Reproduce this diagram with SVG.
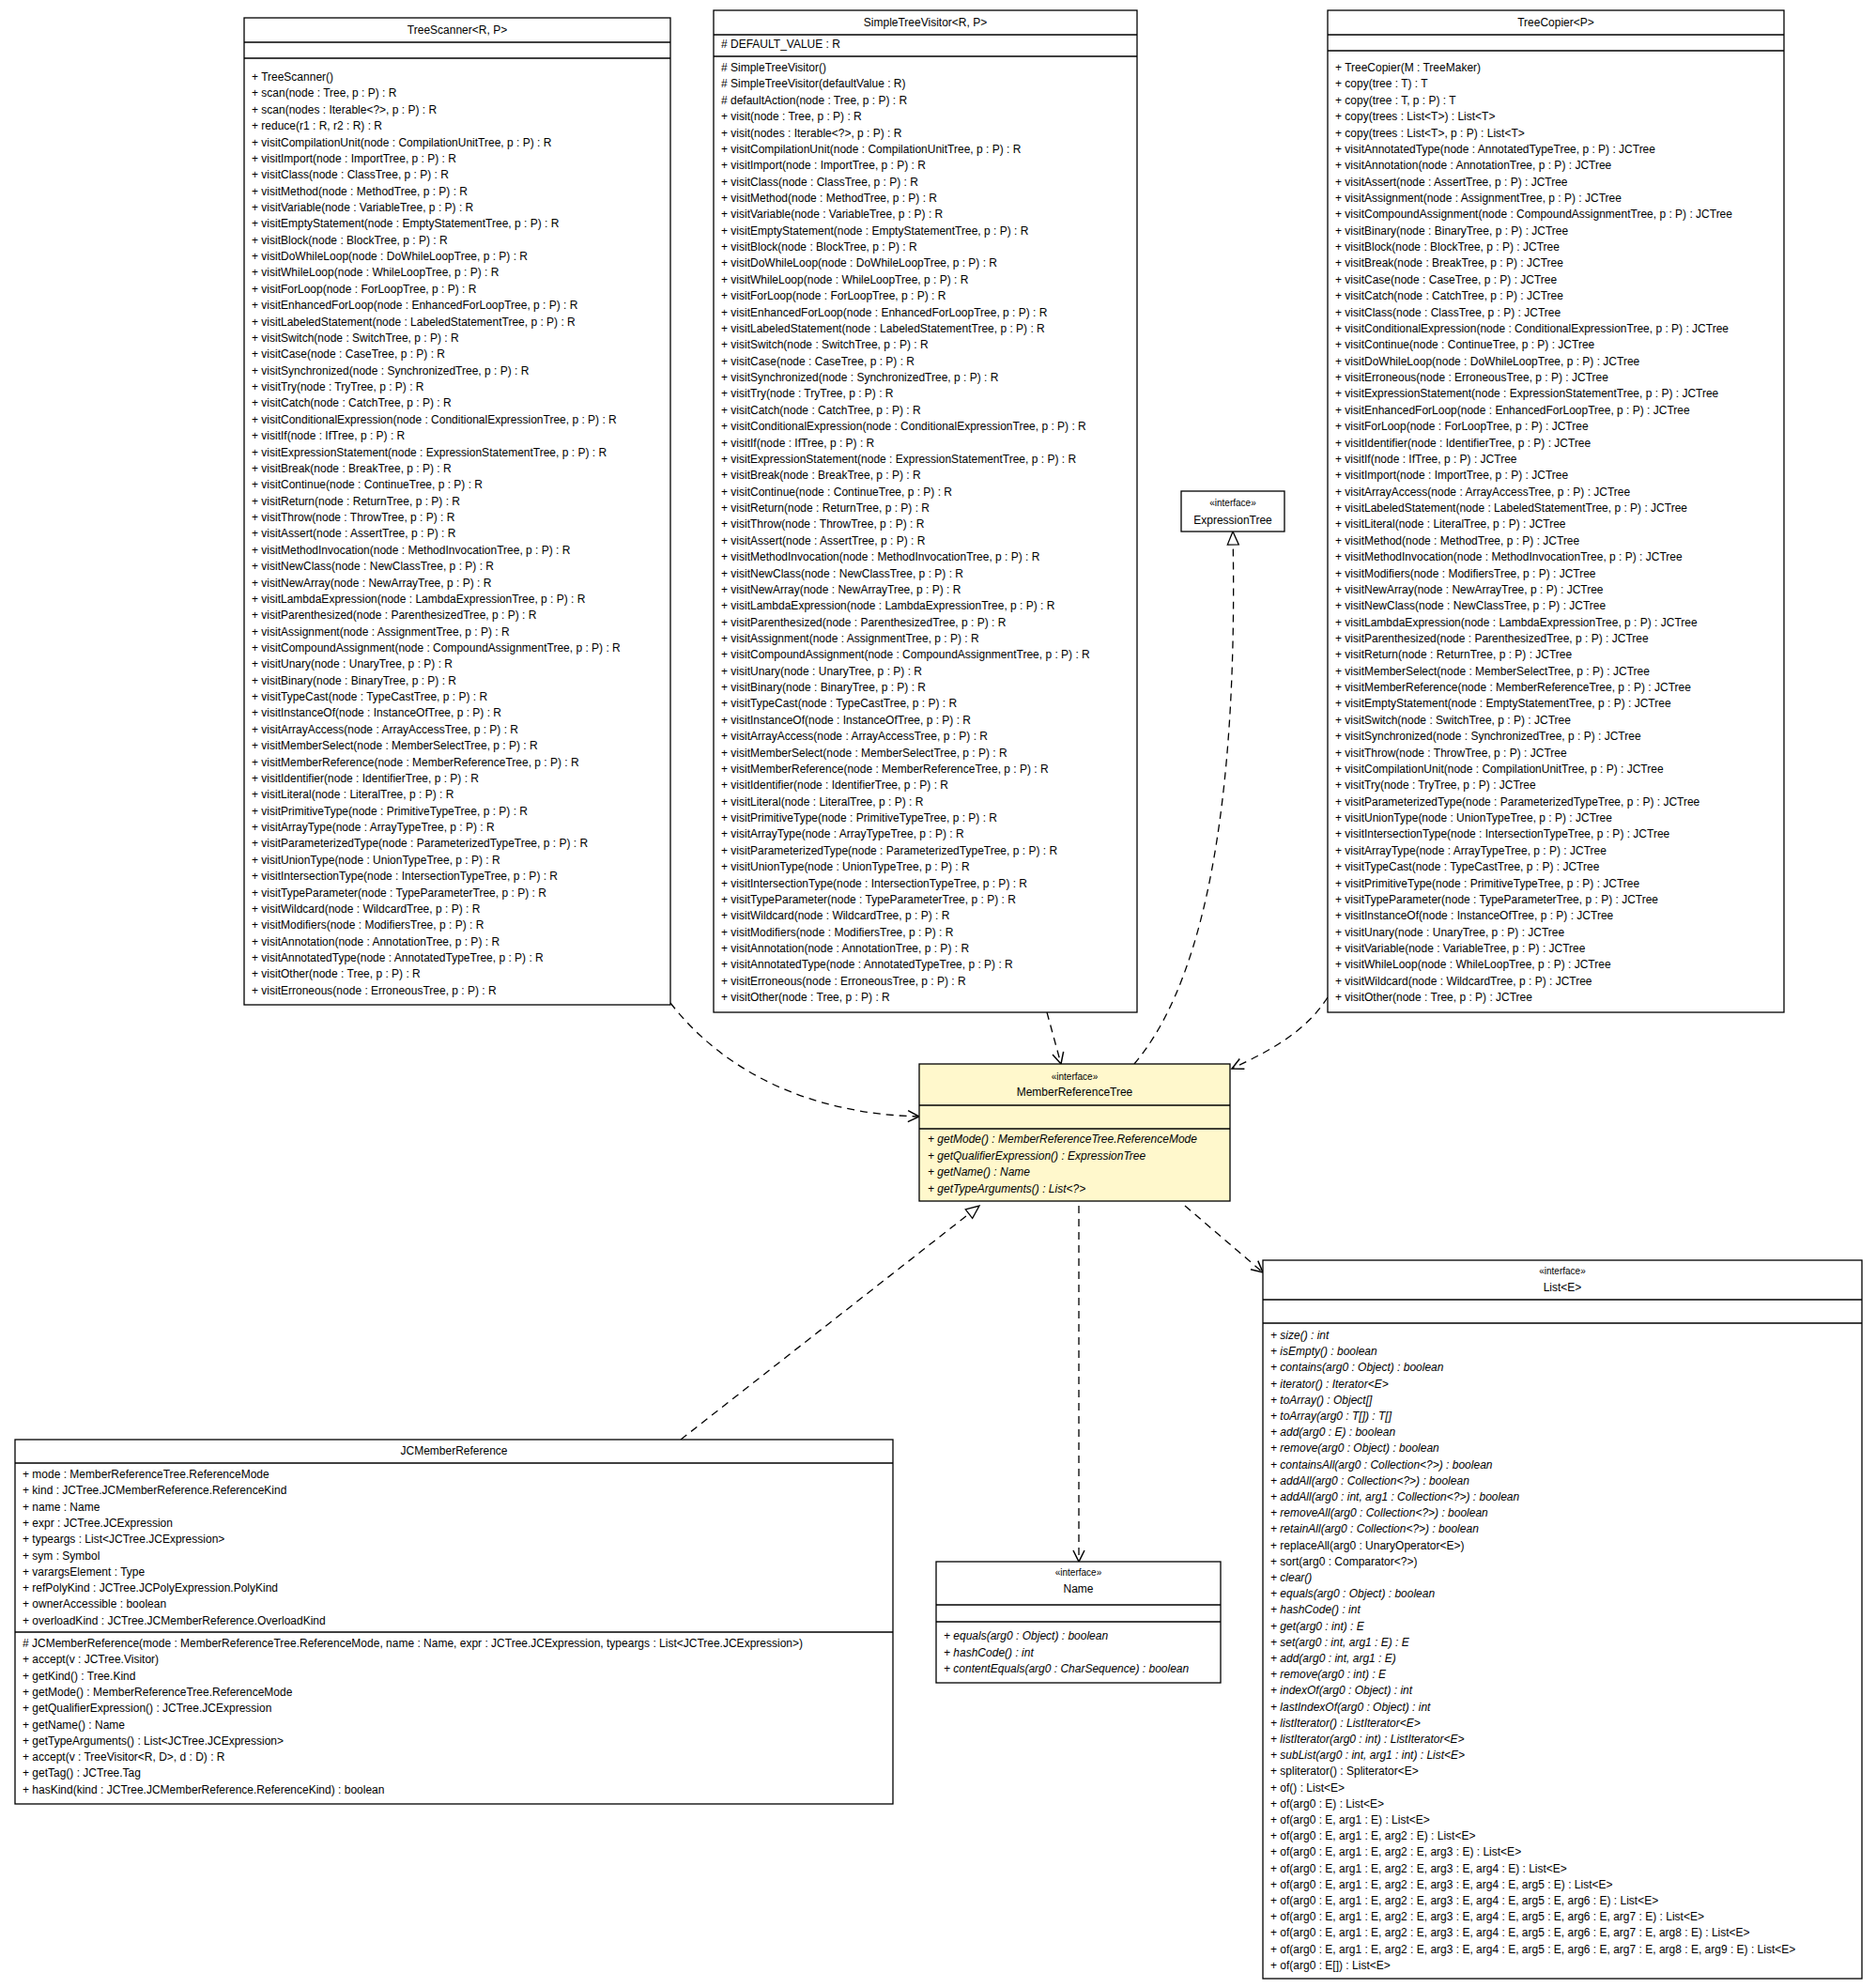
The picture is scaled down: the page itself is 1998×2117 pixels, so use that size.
<svg xmlns="http://www.w3.org/2000/svg" width="1998" height="2117" viewBox="0 0 1998 2117">
<style>
text{font-family:"Liberation Sans",Arial,sans-serif;font-size:12px;fill:#000}
.c{text-anchor:middle}
.i{font-style:italic}
.box{fill:#fff;stroke:#000;stroke-width:1.3}
.hl{fill:#fff8cc}
.sep{stroke:#000;stroke-width:1.3}
.e{fill:none;stroke:#000;stroke-width:1.3;stroke-dasharray:8,6}
</style>
<defs>
<marker id="vee" markerWidth="16" markerHeight="16" refX="14" refY="8" orient="auto" markerUnits="userSpaceOnUse"><path d="M2,2 L14,8 L2,14" fill="none" stroke="#000" stroke-width="1.5"/></marker>
<marker id="tri" markerWidth="18" markerHeight="18" refX="16" refY="9" orient="auto" markerUnits="userSpaceOnUse"><path d="M2,3 L16,9 L2,15 Z" fill="#fff" stroke="#000" stroke-width="1.3"/></marker>
</defs>
<g id="connectors">
<path class="e" d="M714,1068 C770,1140 860,1186 979,1189" marker-end="url(#vee)"/>
<path class="e" d="M1115,1078 L1130,1133" marker-end="url(#vee)"/>
<path class="e" d="M1208,1133 C1270,1060 1320,900 1313,566" marker-end="url(#tri)"/>
<path class="e" d="M1414,1062 C1390,1100 1350,1120 1312,1138" marker-end="url(#vee)"/>
<path class="e" d="M1262,1284 L1345,1355" marker-end="url(#vee)"/>
<path class="e" d="M1149,1284 L1149,1663" marker-end="url(#vee)"/>
<path class="e" d="M725,1533 L1043,1284" marker-end="url(#tri)"/>
</g>
<g id="TreeScanner">
<rect class="box" x="260" y="19" width="454" height="1051"/>
<line class="sep" x1="260" y1="45" x2="714" y2="45"/><line class="sep" x1="260" y1="62" x2="714" y2="62"/>
<text class="c" x="487" y="36">TreeScanner&lt;R, P&gt;</text>
<text x="268" y="86">+ TreeScanner()</text>
<text x="268" y="103.4">+ scan(node : Tree, p : P) : R</text>
<text x="268" y="120.7">+ scan(nodes : Iterable&lt;?&gt;, p : P) : R</text>
<text x="268" y="138.1">+ reduce(r1 : R, r2 : R) : R</text>
<text x="268" y="155.5">+ visitCompilationUnit(node : CompilationUnitTree, p : P) : R</text>
<text x="268" y="172.9">+ visitImport(node : ImportTree, p : P) : R</text>
<text x="268" y="190.2">+ visitClass(node : ClassTree, p : P) : R</text>
<text x="268" y="207.6">+ visitMethod(node : MethodTree, p : P) : R</text>
<text x="268" y="225">+ visitVariable(node : VariableTree, p : P) : R</text>
<text x="268" y="242.3">+ visitEmptyStatement(node : EmptyStatementTree, p : P) : R</text>
<text x="268" y="259.7">+ visitBlock(node : BlockTree, p : P) : R</text>
<text x="268" y="277.1">+ visitDoWhileLoop(node : DoWhileLoopTree, p : P) : R</text>
<text x="268" y="294.4">+ visitWhileLoop(node : WhileLoopTree, p : P) : R</text>
<text x="268" y="311.8">+ visitForLoop(node : ForLoopTree, p : P) : R</text>
<text x="268" y="329.2">+ visitEnhancedForLoop(node : EnhancedForLoopTree, p : P) : R</text>
<text x="268" y="346.6">+ visitLabeledStatement(node : LabeledStatementTree, p : P) : R</text>
<text x="268" y="363.9">+ visitSwitch(node : SwitchTree, p : P) : R</text>
<text x="268" y="381.3">+ visitCase(node : CaseTree, p : P) : R</text>
<text x="268" y="398.7">+ visitSynchronized(node : SynchronizedTree, p : P) : R</text>
<text x="268" y="416">+ visitTry(node : TryTree, p : P) : R</text>
<text x="268" y="433.4">+ visitCatch(node : CatchTree, p : P) : R</text>
<text x="268" y="450.8">+ visitConditionalExpression(node : ConditionalExpressionTree, p : P) : R</text>
<text x="268" y="468.1">+ visitIf(node : IfTree, p : P) : R</text>
<text x="268" y="485.5">+ visitExpressionStatement(node : ExpressionStatementTree, p : P) : R</text>
<text x="268" y="502.9">+ visitBreak(node : BreakTree, p : P) : R</text>
<text x="268" y="520.3">+ visitContinue(node : ContinueTree, p : P) : R</text>
<text x="268" y="537.6">+ visitReturn(node : ReturnTree, p : P) : R</text>
<text x="268" y="555">+ visitThrow(node : ThrowTree, p : P) : R</text>
<text x="268" y="572.4">+ visitAssert(node : AssertTree, p : P) : R</text>
<text x="268" y="589.7">+ visitMethodInvocation(node : MethodInvocationTree, p : P) : R</text>
<text x="268" y="607.1">+ visitNewClass(node : NewClassTree, p : P) : R</text>
<text x="268" y="624.5">+ visitNewArray(node : NewArrayTree, p : P) : R</text>
<text x="268" y="641.8">+ visitLambdaExpression(node : LambdaExpressionTree, p : P) : R</text>
<text x="268" y="659.2">+ visitParenthesized(node : ParenthesizedTree, p : P) : R</text>
<text x="268" y="676.6">+ visitAssignment(node : AssignmentTree, p : P) : R</text>
<text x="268" y="694">+ visitCompoundAssignment(node : CompoundAssignmentTree, p : P) : R</text>
<text x="268" y="711.3">+ visitUnary(node : UnaryTree, p : P) : R</text>
<text x="268" y="728.7">+ visitBinary(node : BinaryTree, p : P) : R</text>
<text x="268" y="746.1">+ visitTypeCast(node : TypeCastTree, p : P) : R</text>
<text x="268" y="763.4">+ visitInstanceOf(node : InstanceOfTree, p : P) : R</text>
<text x="268" y="780.8">+ visitArrayAccess(node : ArrayAccessTree, p : P) : R</text>
<text x="268" y="798.2">+ visitMemberSelect(node : MemberSelectTree, p : P) : R</text>
<text x="268" y="815.5">+ visitMemberReference(node : MemberReferenceTree, p : P) : R</text>
<text x="268" y="832.9">+ visitIdentifier(node : IdentifierTree, p : P) : R</text>
<text x="268" y="850.3">+ visitLiteral(node : LiteralTree, p : P) : R</text>
<text x="268" y="867.7">+ visitPrimitiveType(node : PrimitiveTypeTree, p : P) : R</text>
<text x="268" y="885">+ visitArrayType(node : ArrayTypeTree, p : P) : R</text>
<text x="268" y="902.4">+ visitParameterizedType(node : ParameterizedTypeTree, p : P) : R</text>
<text x="268" y="919.8">+ visitUnionType(node : UnionTypeTree, p : P) : R</text>
<text x="268" y="937.1">+ visitIntersectionType(node : IntersectionTypeTree, p : P) : R</text>
<text x="268" y="954.5">+ visitTypeParameter(node : TypeParameterTree, p : P) : R</text>
<text x="268" y="971.9">+ visitWildcard(node : WildcardTree, p : P) : R</text>
<text x="268" y="989.2">+ visitModifiers(node : ModifiersTree, p : P) : R</text>
<text x="268" y="1006.6">+ visitAnnotation(node : AnnotationTree, p : P) : R</text>
<text x="268" y="1024">+ visitAnnotatedType(node : AnnotatedTypeTree, p : P) : R</text>
<text x="268" y="1041.4">+ visitOther(node : Tree, p : P) : R</text>
<text x="268" y="1058.7">+ visitErroneous(node : ErroneousTree, p : P) : R</text>
</g>
<g id="SimpleTreeVisitor">
<rect class="box" x="760" y="11" width="451" height="1067"/>
<line class="sep" x1="760" y1="37" x2="1211" y2="37"/><line class="sep" x1="760" y1="60" x2="1211" y2="60"/>
<text class="c" x="985.5" y="28">SimpleTreeVisitor&lt;R, P&gt;</text>
<text x="768" y="51">#  DEFAULT_VALUE : R</text>
<text x="768" y="76">#  SimpleTreeVisitor()</text>
<text x="768" y="93.4">#  SimpleTreeVisitor(defaultValue : R)</text>
<text x="768" y="110.7">#  defaultAction(node : Tree, p : P) : R</text>
<text x="768" y="128.1">+ visit(node : Tree, p : P) : R</text>
<text x="768" y="145.5">+ visit(nodes : Iterable&lt;?&gt;, p : P) : R</text>
<text x="768" y="162.9">+ visitCompilationUnit(node : CompilationUnitTree, p : P) : R</text>
<text x="768" y="180.2">+ visitImport(node : ImportTree, p : P) : R</text>
<text x="768" y="197.6">+ visitClass(node : ClassTree, p : P) : R</text>
<text x="768" y="215">+ visitMethod(node : MethodTree, p : P) : R</text>
<text x="768" y="232.3">+ visitVariable(node : VariableTree, p : P) : R</text>
<text x="768" y="249.7">+ visitEmptyStatement(node : EmptyStatementTree, p : P) : R</text>
<text x="768" y="267.1">+ visitBlock(node : BlockTree, p : P) : R</text>
<text x="768" y="284.4">+ visitDoWhileLoop(node : DoWhileLoopTree, p : P) : R</text>
<text x="768" y="301.8">+ visitWhileLoop(node : WhileLoopTree, p : P) : R</text>
<text x="768" y="319.2">+ visitForLoop(node : ForLoopTree, p : P) : R</text>
<text x="768" y="336.6">+ visitEnhancedForLoop(node : EnhancedForLoopTree, p : P) : R</text>
<text x="768" y="353.9">+ visitLabeledStatement(node : LabeledStatementTree, p : P) : R</text>
<text x="768" y="371.3">+ visitSwitch(node : SwitchTree, p : P) : R</text>
<text x="768" y="388.7">+ visitCase(node : CaseTree, p : P) : R</text>
<text x="768" y="406">+ visitSynchronized(node : SynchronizedTree, p : P) : R</text>
<text x="768" y="423.4">+ visitTry(node : TryTree, p : P) : R</text>
<text x="768" y="440.8">+ visitCatch(node : CatchTree, p : P) : R</text>
<text x="768" y="458.1">+ visitConditionalExpression(node : ConditionalExpressionTree, p : P) : R</text>
<text x="768" y="475.5">+ visitIf(node : IfTree, p : P) : R</text>
<text x="768" y="492.9">+ visitExpressionStatement(node : ExpressionStatementTree, p : P) : R</text>
<text x="768" y="510.3">+ visitBreak(node : BreakTree, p : P) : R</text>
<text x="768" y="527.6">+ visitContinue(node : ContinueTree, p : P) : R</text>
<text x="768" y="545">+ visitReturn(node : ReturnTree, p : P) : R</text>
<text x="768" y="562.4">+ visitThrow(node : ThrowTree, p : P) : R</text>
<text x="768" y="579.7">+ visitAssert(node : AssertTree, p : P) : R</text>
<text x="768" y="597.1">+ visitMethodInvocation(node : MethodInvocationTree, p : P) : R</text>
<text x="768" y="614.5">+ visitNewClass(node : NewClassTree, p : P) : R</text>
<text x="768" y="631.8">+ visitNewArray(node : NewArrayTree, p : P) : R</text>
<text x="768" y="649.2">+ visitLambdaExpression(node : LambdaExpressionTree, p : P) : R</text>
<text x="768" y="666.6">+ visitParenthesized(node : ParenthesizedTree, p : P) : R</text>
<text x="768" y="684">+ visitAssignment(node : AssignmentTree, p : P) : R</text>
<text x="768" y="701.3">+ visitCompoundAssignment(node : CompoundAssignmentTree, p : P) : R</text>
<text x="768" y="718.7">+ visitUnary(node : UnaryTree, p : P) : R</text>
<text x="768" y="736.1">+ visitBinary(node : BinaryTree, p : P) : R</text>
<text x="768" y="753.4">+ visitTypeCast(node : TypeCastTree, p : P) : R</text>
<text x="768" y="770.8">+ visitInstanceOf(node : InstanceOfTree, p : P) : R</text>
<text x="768" y="788.2">+ visitArrayAccess(node : ArrayAccessTree, p : P) : R</text>
<text x="768" y="805.5">+ visitMemberSelect(node : MemberSelectTree, p : P) : R</text>
<text x="768" y="822.9">+ visitMemberReference(node : MemberReferenceTree, p : P) : R</text>
<text x="768" y="840.3">+ visitIdentifier(node : IdentifierTree, p : P) : R</text>
<text x="768" y="857.7">+ visitLiteral(node : LiteralTree, p : P) : R</text>
<text x="768" y="875">+ visitPrimitiveType(node : PrimitiveTypeTree, p : P) : R</text>
<text x="768" y="892.4">+ visitArrayType(node : ArrayTypeTree, p : P) : R</text>
<text x="768" y="909.8">+ visitParameterizedType(node : ParameterizedTypeTree, p : P) : R</text>
<text x="768" y="927.1">+ visitUnionType(node : UnionTypeTree, p : P) : R</text>
<text x="768" y="944.5">+ visitIntersectionType(node : IntersectionTypeTree, p : P) : R</text>
<text x="768" y="961.9">+ visitTypeParameter(node : TypeParameterTree, p : P) : R</text>
<text x="768" y="979.2">+ visitWildcard(node : WildcardTree, p : P) : R</text>
<text x="768" y="996.6">+ visitModifiers(node : ModifiersTree, p : P) : R</text>
<text x="768" y="1014">+ visitAnnotation(node : AnnotationTree, p : P) : R</text>
<text x="768" y="1031.4">+ visitAnnotatedType(node : AnnotatedTypeTree, p : P) : R</text>
<text x="768" y="1048.7">+ visitErroneous(node : ErroneousTree, p : P) : R</text>
<text x="768" y="1066.1">+ visitOther(node : Tree, p : P) : R</text>
</g>
<g id="TreeCopier">
<rect class="box" x="1414" y="11" width="486" height="1067"/>
<line class="sep" x1="1414" y1="37" x2="1900" y2="37"/><line class="sep" x1="1414" y1="54" x2="1900" y2="54"/>
<text class="c" x="1657" y="28">TreeCopier&lt;P&gt;</text>
<text x="1422" y="76">+ TreeCopier(M : TreeMaker)</text>
<text x="1422" y="93.4">+ copy(tree : T) : T</text>
<text x="1422" y="110.7">+ copy(tree : T, p : P) : T</text>
<text x="1422" y="128.1">+ copy(trees : List&lt;T&gt;) : List&lt;T&gt;</text>
<text x="1422" y="145.5">+ copy(trees : List&lt;T&gt;, p : P) : List&lt;T&gt;</text>
<text x="1422" y="162.9">+ visitAnnotatedType(node : AnnotatedTypeTree, p : P) : JCTree</text>
<text x="1422" y="180.2">+ visitAnnotation(node : AnnotationTree, p : P) : JCTree</text>
<text x="1422" y="197.6">+ visitAssert(node : AssertTree, p : P) : JCTree</text>
<text x="1422" y="215">+ visitAssignment(node : AssignmentTree, p : P) : JCTree</text>
<text x="1422" y="232.3">+ visitCompoundAssignment(node : CompoundAssignmentTree, p : P) : JCTree</text>
<text x="1422" y="249.7">+ visitBinary(node : BinaryTree, p : P) : JCTree</text>
<text x="1422" y="267.1">+ visitBlock(node : BlockTree, p : P) : JCTree</text>
<text x="1422" y="284.4">+ visitBreak(node : BreakTree, p : P) : JCTree</text>
<text x="1422" y="301.8">+ visitCase(node : CaseTree, p : P) : JCTree</text>
<text x="1422" y="319.2">+ visitCatch(node : CatchTree, p : P) : JCTree</text>
<text x="1422" y="336.6">+ visitClass(node : ClassTree, p : P) : JCTree</text>
<text x="1422" y="353.9">+ visitConditionalExpression(node : ConditionalExpressionTree, p : P) : JCTree</text>
<text x="1422" y="371.3">+ visitContinue(node : ContinueTree, p : P) : JCTree</text>
<text x="1422" y="388.7">+ visitDoWhileLoop(node : DoWhileLoopTree, p : P) : JCTree</text>
<text x="1422" y="406">+ visitErroneous(node : ErroneousTree, p : P) : JCTree</text>
<text x="1422" y="423.4">+ visitExpressionStatement(node : ExpressionStatementTree, p : P) : JCTree</text>
<text x="1422" y="440.8">+ visitEnhancedForLoop(node : EnhancedForLoopTree, p : P) : JCTree</text>
<text x="1422" y="458.1">+ visitForLoop(node : ForLoopTree, p : P) : JCTree</text>
<text x="1422" y="475.5">+ visitIdentifier(node : IdentifierTree, p : P) : JCTree</text>
<text x="1422" y="492.9">+ visitIf(node : IfTree, p : P) : JCTree</text>
<text x="1422" y="510.3">+ visitImport(node : ImportTree, p : P) : JCTree</text>
<text x="1422" y="527.6">+ visitArrayAccess(node : ArrayAccessTree, p : P) : JCTree</text>
<text x="1422" y="545">+ visitLabeledStatement(node : LabeledStatementTree, p : P) : JCTree</text>
<text x="1422" y="562.4">+ visitLiteral(node : LiteralTree, p : P) : JCTree</text>
<text x="1422" y="579.7">+ visitMethod(node : MethodTree, p : P) : JCTree</text>
<text x="1422" y="597.1">+ visitMethodInvocation(node : MethodInvocationTree, p : P) : JCTree</text>
<text x="1422" y="614.5">+ visitModifiers(node : ModifiersTree, p : P) : JCTree</text>
<text x="1422" y="631.8">+ visitNewArray(node : NewArrayTree, p : P) : JCTree</text>
<text x="1422" y="649.2">+ visitNewClass(node : NewClassTree, p : P) : JCTree</text>
<text x="1422" y="666.6">+ visitLambdaExpression(node : LambdaExpressionTree, p : P) : JCTree</text>
<text x="1422" y="684">+ visitParenthesized(node : ParenthesizedTree, p : P) : JCTree</text>
<text x="1422" y="701.3">+ visitReturn(node : ReturnTree, p : P) : JCTree</text>
<text x="1422" y="718.7">+ visitMemberSelect(node : MemberSelectTree, p : P) : JCTree</text>
<text x="1422" y="736.1">+ visitMemberReference(node : MemberReferenceTree, p : P) : JCTree</text>
<text x="1422" y="753.4">+ visitEmptyStatement(node : EmptyStatementTree, p : P) : JCTree</text>
<text x="1422" y="770.8">+ visitSwitch(node : SwitchTree, p : P) : JCTree</text>
<text x="1422" y="788.2">+ visitSynchronized(node : SynchronizedTree, p : P) : JCTree</text>
<text x="1422" y="805.5">+ visitThrow(node : ThrowTree, p : P) : JCTree</text>
<text x="1422" y="822.9">+ visitCompilationUnit(node : CompilationUnitTree, p : P) : JCTree</text>
<text x="1422" y="840.3">+ visitTry(node : TryTree, p : P) : JCTree</text>
<text x="1422" y="857.7">+ visitParameterizedType(node : ParameterizedTypeTree, p : P) : JCTree</text>
<text x="1422" y="875">+ visitUnionType(node : UnionTypeTree, p : P) : JCTree</text>
<text x="1422" y="892.4">+ visitIntersectionType(node : IntersectionTypeTree, p : P) : JCTree</text>
<text x="1422" y="909.8">+ visitArrayType(node : ArrayTypeTree, p : P) : JCTree</text>
<text x="1422" y="927.1">+ visitTypeCast(node : TypeCastTree, p : P) : JCTree</text>
<text x="1422" y="944.5">+ visitPrimitiveType(node : PrimitiveTypeTree, p : P) : JCTree</text>
<text x="1422" y="961.9">+ visitTypeParameter(node : TypeParameterTree, p : P) : JCTree</text>
<text x="1422" y="979.2">+ visitInstanceOf(node : InstanceOfTree, p : P) : JCTree</text>
<text x="1422" y="996.6">+ visitUnary(node : UnaryTree, p : P) : JCTree</text>
<text x="1422" y="1014">+ visitVariable(node : VariableTree, p : P) : JCTree</text>
<text x="1422" y="1031.4">+ visitWhileLoop(node : WhileLoopTree, p : P) : JCTree</text>
<text x="1422" y="1048.7">+ visitWildcard(node : WildcardTree, p : P) : JCTree</text>
<text x="1422" y="1066.1">+ visitOther(node : Tree, p : P) : JCTree</text>
</g>
<g id="ExpressionTree">
<rect class="box" x="1258" y="523" width="110" height="43"/>
<text class="c" x="1313" y="539" style="font-size:10px">«interface»</text>
<text class="c" x="1313" y="558">ExpressionTree</text>
</g>
<g id="MemberReferenceTree">
<rect class="box hl" x="979" y="1133" width="331" height="146"/>
<line class="sep" x1="979" y1="1177" x2="1310" y2="1177"/><line class="sep" x1="979" y1="1202" x2="1310" y2="1202"/>
<text class="c" x="1144.5" y="1150" style="font-size:10px">«interface»</text>
<text class="c" x="1144.5" y="1167">MemberReferenceTree</text>
<text class="i" x="988" y="1217">+ getMode() : MemberReferenceTree.ReferenceMode</text>
<text class="i" x="988" y="1234.5">+ getQualifierExpression() : ExpressionTree</text>
<text class="i" x="988" y="1252">+ getName() : Name</text>
<text class="i" x="988" y="1269.5">+ getTypeArguments() : List&lt;?&gt;</text>
</g>
<g id="List">
<rect class="box" x="1345" y="1342" width="638" height="765"/>
<line class="sep" x1="1345" y1="1384" x2="1983" y2="1384"/><line class="sep" x1="1345" y1="1409" x2="1983" y2="1409"/>
<text class="c" x="1664" y="1357" style="font-size:10px">«interface»</text>
<text class="c" x="1664" y="1375">List&lt;E&gt;</text>
<text class="i" x="1353" y="1426">+ size() : int</text>
<text class="i" x="1353" y="1443.2">+ isEmpty() : boolean</text>
<text class="i" x="1353" y="1460.4">+ contains(arg0 : Object) : boolean</text>
<text class="i" x="1353" y="1477.6">+ iterator() : Iterator&lt;E&gt;</text>
<text class="i" x="1353" y="1494.8">+ toArray() : Object[]</text>
<text class="i" x="1353" y="1512">+ toArray(arg0 : T[]) : T[]</text>
<text class="i" x="1353" y="1529.2">+ add(arg0 : E) : boolean</text>
<text class="i" x="1353" y="1546.4">+ remove(arg0 : Object) : boolean</text>
<text class="i" x="1353" y="1563.6">+ containsAll(arg0 : Collection&lt;?&gt;) : boolean</text>
<text class="i" x="1353" y="1580.8">+ addAll(arg0 : Collection&lt;?&gt;) : boolean</text>
<text class="i" x="1353" y="1598">+ addAll(arg0 : int, arg1 : Collection&lt;?&gt;) : boolean</text>
<text class="i" x="1353" y="1615.2">+ removeAll(arg0 : Collection&lt;?&gt;) : boolean</text>
<text class="i" x="1353" y="1632.4">+ retainAll(arg0 : Collection&lt;?&gt;) : boolean</text>
<text x="1353" y="1649.6">+ replaceAll(arg0 : UnaryOperator&lt;E&gt;)</text>
<text x="1353" y="1666.8">+ sort(arg0 : Comparator&lt;?&gt;)</text>
<text class="i" x="1353" y="1684">+ clear()</text>
<text class="i" x="1353" y="1701.2">+ equals(arg0 : Object) : boolean</text>
<text class="i" x="1353" y="1718.4">+ hashCode() : int</text>
<text class="i" x="1353" y="1735.6">+ get(arg0 : int) : E</text>
<text class="i" x="1353" y="1752.8">+ set(arg0 : int, arg1 : E) : E</text>
<text class="i" x="1353" y="1770">+ add(arg0 : int, arg1 : E)</text>
<text class="i" x="1353" y="1787.2">+ remove(arg0 : int) : E</text>
<text class="i" x="1353" y="1804.4">+ indexOf(arg0 : Object) : int</text>
<text class="i" x="1353" y="1821.6">+ lastIndexOf(arg0 : Object) : int</text>
<text class="i" x="1353" y="1838.8">+ listIterator() : ListIterator&lt;E&gt;</text>
<text class="i" x="1353" y="1856">+ listIterator(arg0 : int) : ListIterator&lt;E&gt;</text>
<text class="i" x="1353" y="1873.2">+ subList(arg0 : int, arg1 : int) : List&lt;E&gt;</text>
<text x="1353" y="1890.4">+ spliterator() : Spliterator&lt;E&gt;</text>
<text x="1353" y="1907.6">+ of() : List&lt;E&gt;</text>
<text x="1353" y="1924.8">+ of(arg0 : E) : List&lt;E&gt;</text>
<text x="1353" y="1942">+ of(arg0 : E, arg1 : E) : List&lt;E&gt;</text>
<text x="1353" y="1959.2">+ of(arg0 : E, arg1 : E, arg2 : E) : List&lt;E&gt;</text>
<text x="1353" y="1976.4">+ of(arg0 : E, arg1 : E, arg2 : E, arg3 : E) : List&lt;E&gt;</text>
<text x="1353" y="1993.6">+ of(arg0 : E, arg1 : E, arg2 : E, arg3 : E, arg4 : E) : List&lt;E&gt;</text>
<text x="1353" y="2010.8">+ of(arg0 : E, arg1 : E, arg2 : E, arg3 : E, arg4 : E, arg5 : E) : List&lt;E&gt;</text>
<text x="1353" y="2028">+ of(arg0 : E, arg1 : E, arg2 : E, arg3 : E, arg4 : E, arg5 : E, arg6 : E) : List&lt;E&gt;</text>
<text x="1353" y="2045.2">+ of(arg0 : E, arg1 : E, arg2 : E, arg3 : E, arg4 : E, arg5 : E, arg6 : E, arg7 : E) : List&lt;E&gt;</text>
<text x="1353" y="2062.4">+ of(arg0 : E, arg1 : E, arg2 : E, arg3 : E, arg4 : E, arg5 : E, arg6 : E, arg7 : E, arg8 : E) : List&lt;E&gt;</text>
<text x="1353" y="2079.6">+ of(arg0 : E, arg1 : E, arg2 : E, arg3 : E, arg4 : E, arg5 : E, arg6 : E, arg7 : E, arg8 : E, arg9 : E) : List&lt;E&gt;</text>
<text x="1353" y="2096.8">+ of(arg0 : E[]) : List&lt;E&gt;</text>
</g>
<g id="Name">
<rect class="box" x="997" y="1663" width="303" height="129"/>
<line class="sep" x1="997" y1="1709" x2="1300" y2="1709"/><line class="sep" x1="997" y1="1727" x2="1300" y2="1727"/>
<text class="c" x="1148.5" y="1678" style="font-size:10px">«interface»</text>
<text class="c" x="1148.5" y="1696">Name</text>
<text class="i" x="1005" y="1746">+ equals(arg0 : Object) : boolean</text>
<text class="i" x="1005" y="1763.5">+ hashCode() : int</text>
<text class="i" x="1005" y="1781">+ contentEquals(arg0 : CharSequence) : boolean</text>
</g>
<g id="JCMemberReference">
<rect class="box" x="16" y="1533" width="935" height="388"/>
<line class="sep" x1="16" y1="1558" x2="951" y2="1558"/><line class="sep" x1="16" y1="1738" x2="951" y2="1738"/>
<text class="c" x="483.5" y="1549">JCMemberReference</text>
<text x="24" y="1574">+ mode : MemberReferenceTree.ReferenceMode</text>
<text x="24" y="1591.3">+ kind : JCTree.JCMemberReference.ReferenceKind</text>
<text x="24" y="1608.6">+ name : Name</text>
<text x="24" y="1625.9">+ expr : JCTree.JCExpression</text>
<text x="24" y="1643.2">+ typeargs : List&lt;JCTree.JCExpression&gt;</text>
<text x="24" y="1660.5">+ sym : Symbol</text>
<text x="24" y="1677.8">+ varargsElement : Type</text>
<text x="24" y="1695.1">+ refPolyKind : JCTree.JCPolyExpression.PolyKind</text>
<text x="24" y="1712.4">+ ownerAccessible : boolean</text>
<text x="24" y="1729.7">+ overloadKind : JCTree.JCMemberReference.OverloadKind</text>
<text x="24" y="1754">#  JCMemberReference(mode : MemberReferenceTree.ReferenceMode, name : Name, expr : JCTree.JCExpression, typeargs : List&lt;JCTree.JCExpression&gt;)</text>
<text x="24" y="1771.3">+ accept(v : JCTree.Visitor)</text>
<text x="24" y="1788.6">+ getKind() : Tree.Kind</text>
<text x="24" y="1805.9">+ getMode() : MemberReferenceTree.ReferenceMode</text>
<text x="24" y="1823.2">+ getQualifierExpression() : JCTree.JCExpression</text>
<text x="24" y="1840.5">+ getName() : Name</text>
<text x="24" y="1857.8">+ getTypeArguments() : List&lt;JCTree.JCExpression&gt;</text>
<text x="24" y="1875.1">+ accept(v : TreeVisitor&lt;R, D&gt;, d : D) : R</text>
<text x="24" y="1892.4">+ getTag() : JCTree.Tag</text>
<text x="24" y="1909.7">+ hasKind(kind : JCTree.JCMemberReference.ReferenceKind) : boolean</text>
</g>
</svg>
